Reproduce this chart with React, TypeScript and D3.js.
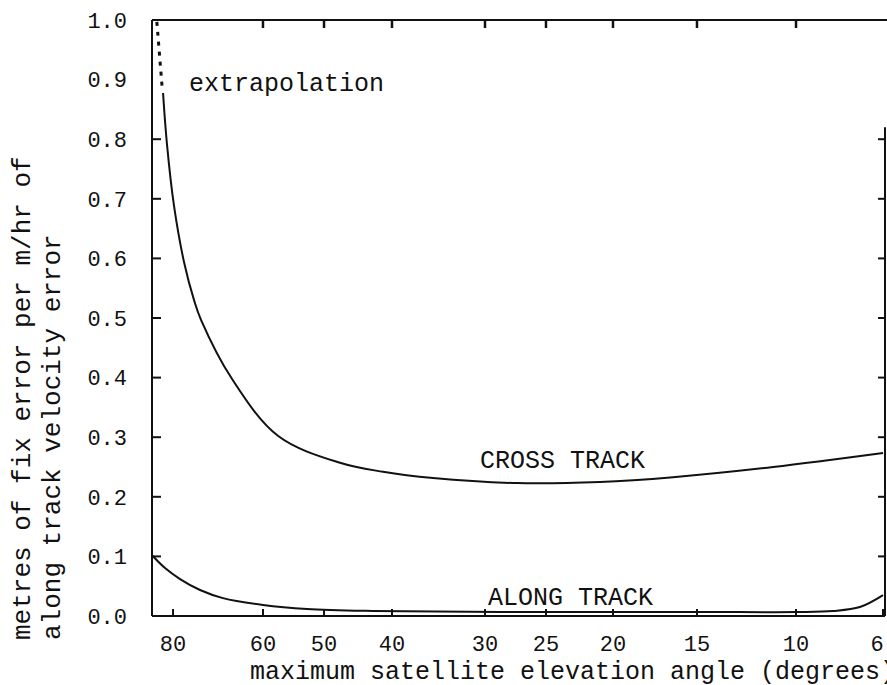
import React from "react";
import * as d3 from "d3";

// x axis: maximum satellite elevation angle (degrees) — non-uniform axis
const xTickValues = [80, 60, 50, 40, 30, 25, 20, 15, 10, 6];
// fraction of the plot width at which each tick sits (axis is non-linear in degrees)
const xTickFractions = [0.0287, 0.1514, 0.2347, 0.3274, 0.4543, 0.5375, 0.6289, 0.7435, 0.8786, 0.9973];
const yTickValues = [0.0, 0.1, 0.2, 0.3, 0.4, 0.5, 0.6, 0.7, 0.8, 0.9, 1.0];
const yInnerTicks = [0.1, 0.2, 0.3, 0.4, 0.5, 0.6, 0.7, 0.8];

// cross track (solid)
const crossElev = [82.22, 81.33, 79.78, 77.56, 75.33, 73.78, 66.9, 57.5, 47.65, 41.32, 35.59, 27.38, 20.97, 16.43, 11.16, 6];
const crossVal = [0.8775, 0.79, 0.688, 0.594, 0.53, 0.497, 0.398, 0.302, 0.257, 0.242, 0.2315, 0.223, 0.225, 0.233, 0.25, 0.2735];

// extrapolation (dotted)
const extrapElev = [83.6, 82.4];
const extrapVal = [0.997, 0.885];

// along track (solid)
const alongElev = [84.67, 81.78, 78.44, 74.0, 68.89, 60, 52.79, 42.79, 28.77, 14.85, 10, 8.3, 7.06, 6];
const alongVal = [0.102, 0.0805, 0.062, 0.0436, 0.03, 0.0185, 0.0117, 0.0084, 0.0067, 0.0067, 0.0067, 0.0084, 0.015, 0.035];

const W = 887;
const H = 685;
const left = 152;
const right = 885;
const top = 20;
const bottom = 616;
const ink = "#111";
const font = "'Liberation Mono', 'DejaVu Sans Mono', monospace";

export default function App() {
  const x = d3
    .scaleLinear()
    .domain(xTickValues)
    .range(xTickFractions.map((f) => left + f * (right - left)));
  const y = d3.scaleLinear().domain([0, 1]).range([bottom, top]);

  const line = d3
    .line<[number, number]>()
    .x((d) => x(d[0]))
    .y((d) => y(d[1]))
    .curve(d3.curveCatmullRom.alpha(0.5));

  const cross = crossElev.map((e, i) => [e, crossVal[i]] as [number, number]);
  const along = alongElev.map((e, i) => [e, alongVal[i]] as [number, number]);
  const extrap = extrapElev.map((e, i) => [e, extrapVal[i]] as [number, number]);
  const extrapLine = d3
    .line<[number, number]>()
    .x((d) => x(d[0]))
    .y((d) => y(d[1]));

  return (
    <svg
      width={W}
      height={H}
      style={{ position: "absolute", left: 0, top: 0, background: "#fff" }}
      fontFamily={font}
    >
      <rect x={0} y={0} width={W} height={H} fill="#fff" />
      {/* frame */}
      <line x1={left} y1={top} x2={left} y2={bottom} stroke={ink} strokeWidth={2} />
      <line x1={left} y1={bottom} x2={right} y2={bottom} stroke={ink} strokeWidth={2} />
      <line x1={left} y1={top} x2={W} y2={top} stroke={ink} strokeWidth={2} />
      <line x1={right} y1={y(0.82)} x2={right} y2={bottom} stroke={ink} strokeWidth={2} />

      {/* bottom ticks (inward) */}
      {xTickValues.map((v) => (
        <line key={"bt" + v} x1={x(v)} x2={x(v)} y1={bottom} y2={bottom - 7} stroke={ink} strokeWidth={2} />
      ))}
      {/* top ticks (inward) */}
      {xTickValues.slice(1, -1).map((v) => (
        <line key={"tt" + v} x1={x(v)} x2={x(v)} y1={top} y2={top + 8} stroke={ink} strokeWidth={2.5} />
      ))}
      {/* left and right ticks */}
      {yInnerTicks.map((v) => (
        <g key={"yt" + v}>
          <line x1={left} x2={left + 9} y1={y(v)} y2={y(v)} stroke={ink} strokeWidth={2} />
          <line x1={right} x2={right - 7} y1={y(v)} y2={y(v)} stroke={ink} strokeWidth={2} />
        </g>
      ))}

      {/* y tick labels */}
      {yTickValues.map((v) => (
        <text
          key={"yl" + v}
          x={127}
          y={y(v)}
          dy="0.35em"
          textAnchor="end"
          fontSize={22}
          fill={ink}
        >
          {v.toFixed(1)}
        </text>
      ))}
      {/* x tick labels */}
      {xTickValues.map((v) => (
        <text
          key={"xl" + v}
          x={Math.min(x(v), W - 10)}
          y={651}
          textAnchor="middle"
          fontSize={22}
          fill={ink}
        >
          {v}
        </text>
      ))}

      {/* curves */}
      <path d={line(cross) || ""} fill="none" stroke={ink} strokeWidth={2} />
      <path d={line(along) || ""} fill="none" stroke={ink} strokeWidth={2} />
      <path
        d={extrapLine(extrap) || ""}
        fill="none"
        stroke={ink}
        strokeWidth={3}
        strokeDasharray="4,6"
      />

      {/* annotations */}
      <text x={189} y={91} fontSize={25} fill={ink}>extrapolation</text>
      <text x={480} y={468} fontSize={25} fill={ink}>CROSS TRACK</text>
      <text x={488} y={605} fontSize={25} fill={ink}>ALONG TRACK</text>

      {/* axis titles */}
      <text x={250} y={679} fontSize={25} fill={ink}>
        maximum satellite elevation angle (degrees)
      </text>
      <text transform="translate(30,640) rotate(-90)" fontSize={26} fill={ink}>
        metres of fix error per m/hr of
      </text>
      <text transform="translate(60,640) rotate(-90)" fontSize={26} fill={ink}>
        along track velocity error
      </text>
    </svg>
  );
}
